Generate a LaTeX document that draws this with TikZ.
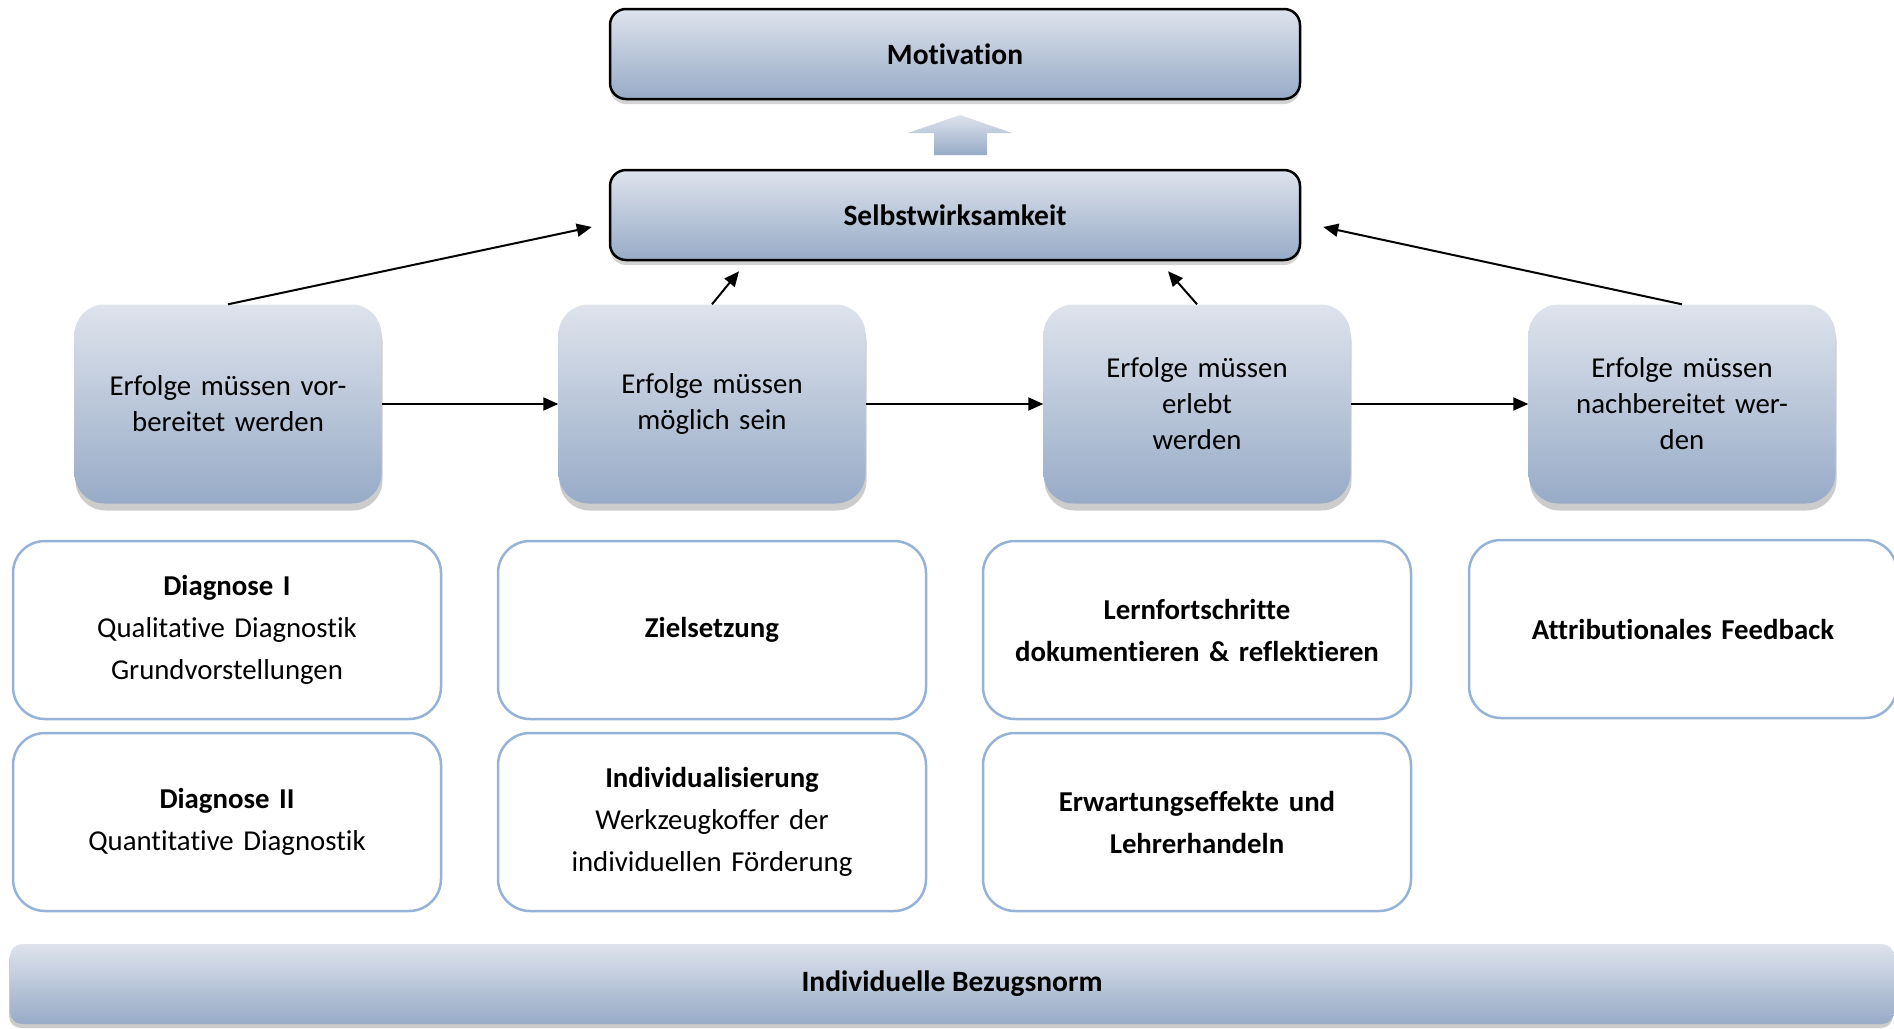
\documentclass[tikz,border=0pt]{standalone}
\usepackage{fontspec}
\setmainfont[Ligatures=NoCommon]{Carlito}
\usepackage{tikz}
\usetikzlibrary{shapes.misc,shadows,arrows.meta,calc}

\definecolor{topfill}{RGB}{222,227,236}
\definecolor{botfill}{RGB}{151,171,199}
\definecolor{rimblue}{RGB}{149,179,215}

\begin{document}
\begin{tikzpicture}[x=1pt,y=-1pt,
	headbox/.style={draw=black,line width=2.5pt,rounded corners=16pt,minimum width=690pt,minimum height=90pt,
		top color=topfill,bottom color=botfill,drop shadow={shadow xshift=0pt,shadow yshift=-5pt,opacity=0.35},
		font=\fontsize{29.5}{36}\selectfont\bfseries},
	stagebox/.style={rounded corners=30pt,minimum width=307pt,minimum height=199pt,top color=topfill,bottom color=botfill,
		drop shadow={shadow xshift=1pt,shadow yshift=-7pt,opacity=0.4},align=center,text width=290pt,
		font=\fontsize{28.8}{36}\selectfont},
	toolbox/.style={draw=rimblue,line width=2.5pt,rounded corners=32pt,minimum width=428pt,minimum height=178pt,
		fill=white,align=center,text width=410pt,font=\fontsize{28.8}{42}\selectfont},
	basebar/.style={rounded corners=12pt,minimum width=1884pt,minimum height=80pt,top color=topfill,bottom color=botfill,
		drop shadow={shadow xshift=-1pt,shadow yshift=-4pt,opacity=0.4},font=\fontsize{29.5}{36}\selectfont\bfseries},
	flow/.style={line width=2pt,-{Triangle[length=15pt,width=13pt]}}]
	\useasboundingbox (0,0) rectangle (1894,1028);

	\node[headbox] (motiv) at (955,54) {Motivation};
	\node[headbox] (selbst) at (955,215) {Selbstwirksamkeit};
	\shade[top color=topfill,bottom color=botfill] (934,155) -- (934,133) -- (908,133) -- (960,115)
		-- (1012,133) -- (987,133) -- (987,155) -- cycle;

	\foreach \x/\name/\txt in {228/g1/{Erfolge müssen vor-\\bereitet werden},
		712/g2/{Erfolge müssen\\möglich sein},
		1197/g3/{Erfolge müssen\\erlebt\\werden},
		1682/g4/{Erfolge müssen\\nachbereitet wer-\\den}}{
		\node[stagebox] (\name) at (\x,404) {\txt};
	}

	\node[toolbox] (t1) at (227,630) {\textbf{Diagnose I}\\Qualitative Diagnostik\\Grundvorstellungen};
	\node[toolbox] (t2) at (712,630) {\textbf{Zielsetzung}};
	\node[toolbox] (t3) at (1197,630) {\textbf{Lernfortschritte}\\\textbf{dokumentieren \& reflektieren}};
	\node[toolbox] (t4) at (1683,629) {\textbf{Attributionales Feedback}};
	\node[toolbox] (t5) at (227,822) {\textbf{Diagnose II}\\Quantitative Diagnostik};
	\node[toolbox] (t6) at (712,822) {\textbf{Individualisierung}\\Werkzeugkoffer der\\individuellen Förderung};
	\node[toolbox] (t7) at (1197,822) {\textbf{Erwartungseffekte und}\\\textbf{Lehrerhandeln}};

	\node[basebar] (norm) at (952,984) {Individuelle Bezugsnorm};

	\draw[flow] (g1.east) -- (g2.west);
	\draw[flow] (g2.east) -- (g3.west);
	\draw[flow] (g3.east) -- (g4.west);
	\draw[flow] (g1.north) -- ($(selbst.west)+(-17,12)$);
	\draw[flow] (g2.north) -- ($(selbst.south)+(-216,10)$);
	\draw[flow] (g3.north) -- ($(selbst.south)+(213,10)$);
	\draw[flow] (g4.north) -- ($(selbst.east)+(22,12)$);
\end{tikzpicture}
\end{document}
